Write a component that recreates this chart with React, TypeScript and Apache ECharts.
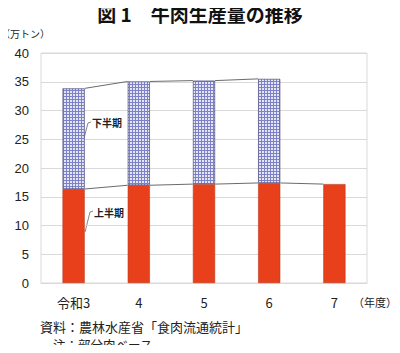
import React, { useEffect, useRef } from "react";
import * as echarts from "echarts";

const categories = ["令和3", "4", "5", "6", "7"];
const firstHalf = [16.35, 17.0, 17.2, 17.4, 17.2];
const secondHalf = [17.5, 18.05, 18.0, 18.1, null];
const yTicks = { min: 0, max: 40, interval: 5 };

const FONT = "'Noto Sans CJK JP', 'Liberation Sans', sans-serif";
const NUMFONT = "'Liberation Sans', Arial, sans-serif";

function makePattern(): HTMLCanvasElement {
  const c = document.createElement("canvas");
  c.width = 3;
  c.height = 3;
  const ctx = c.getContext("2d")!;
  ctx.fillStyle = "#e4e5f5";
  ctx.fillRect(0, 0, 3, 3);
  ctx.fillStyle = "#7d82c8";
  ctx.fillRect(0, 0, 3, 1);
  ctx.fillRect(0, 0, 1, 3);
  return c;
}

export default function App() {
  const ref = useRef<HTMLDivElement>(null);
  useEffect(() => {
    const chart = echarts.init(ref.current!, null, { renderer: "svg" });
    const totals = firstHalf.map((v, i) =>
      secondHalf[i] == null ? null : v + (secondHalf[i] as number)
    );
    const lowerLines: number[][] = [];
    for (let i = 0; i < firstHalf.length - 1; i++) {
      lowerLines.push([i, firstHalf[i], firstHalf[i + 1]]);
    }
    const upperLines: number[][] = [];
    for (let i = 0; i < totals.length - 1; i++) {
      if (totals[i] != null && totals[i + 1] != null) {
        upperLines.push([i, totals[i] as number, totals[i + 1] as number]);
      }
    }
    const barRatio = 0.34;
    const renderConnector = (params: any, api: any) => {
      const i = api.value(0);
      const p0 = api.coord([i, api.value(1)]);
      const p1 = api.coord([i + 1, api.value(2)]);
      const half = (api.size([1, 0])[0] * barRatio) / 2;
      return {
        type: "line",
        shape: { x1: p0[0] + half, y1: p0[1], x2: p1[0] - half, y2: p1[1] },
        style: { stroke: "#6b6b6b", lineWidth: 1 },
        silent: true,
      };
    };
    chart.setOption({
      animation: false,
      grid: {
        left: 41,
        right: 33,
        top: 53,
        bottom: 70,
        show: true,
        borderColor: "#d9d9d9",
        borderWidth: 1,
      },
      xAxis: {
        type: "category",
        data: categories,
        axisLine: { lineStyle: { color: "#d9d9d9" } },
        axisTick: { show: false },
        axisLabel: {
          color: "#222",
          fontSize: 13,
          fontFamily: FONT,
          margin: 13,
        },
      },
      yAxis: {
        type: "value",
        min: yTicks.min,
        max: yTicks.max,
        interval: yTicks.interval,
        axisLine: { show: false },
        axisTick: { show: false },
        splitLine: { lineStyle: { color: "#d9d9d9" } },
        axisLabel: {
          color: "#222",
          fontSize: 13,
          fontFamily: NUMFONT,
          margin: 12,
        },
      },
      series: [
        {
          name: "上半期",
          type: "bar",
          stack: "a",
          barWidth: barRatio * 100 + "%",
          data: firstHalf,
          itemStyle: {
            color: "#e8401a",
            borderColor: "#b9371c",
            borderWidth: 0.6,
          },
        },
        {
          name: "下半期",
          type: "bar",
          stack: "a",
          barWidth: barRatio * 100 + "%",
          data: secondHalf.map((v) => (v == null ? "-" : v)),
          itemStyle: {
            color: { image: makePattern(), repeat: "repeat" },
            borderColor: "#4a4a7a",
            borderWidth: 0.7,
          },
        },
        {
          type: "custom",
          renderItem: renderConnector,
          data: lowerLines,
          encode: { x: 0, y: 1 },
          z: 5,
          silent: true,
        },
        {
          type: "custom",
          renderItem: renderConnector,
          data: upperLines,
          encode: { x: 0, y: 1 },
          z: 5,
          silent: true,
        },
      ],
      graphic: [
        {
          type: "text",
          left: "center",
          top: 4,
          style: {
            text: "図 1　牛肉生産量の推移",
            font: "bold 19px " + FONT,
            fill: "#111",
          },
        },
        {
          type: "text",
          x: 0,
          y: 33,
          style: {
            text: "（万トン）",
            font: "10px " + FONT,
            fill: "#222",
            verticalAlign: "middle",
          },
        },
        {
          type: "text",
          x: 353,
          y: 302,
          style: {
            text: "（年度）",
            font: "11px " + FONT,
            fill: "#222",
            verticalAlign: "middle",
          },
        },
        {
          type: "text",
          x: 40,
          y: 326,
          style: {
            text: "資料：農林水産省「食肉流通統計」",
            font: "13px " + FONT,
            fill: "#222",
            verticalAlign: "middle",
          },
        },
        {
          type: "text",
          x: 53,
          y: 344,
          style: {
            text: "注：部分肉ベース。",
            font: "12.5px " + FONT,
            fill: "#222",
            verticalAlign: "middle",
          },
        },
        {
          type: "text",
          x: 92,
          y: 122,
          style: {
            text: "下半期",
            font: "bold 10px " + FONT,
            fill: "#222",
            verticalAlign: "middle",
          },
        },
        {
          type: "polyline",
          shape: { points: [[91, 122], [88, 123], [84, 138]] },
          style: { stroke: "#666", lineWidth: 0.8, fill: null },
        },
        {
          type: "text",
          x: 94,
          y: 212,
          style: {
            text: "上半期",
            font: "bold 10px " + FONT,
            fill: "#222",
            verticalAlign: "middle",
          },
        },
        {
          type: "polyline",
          shape: { points: [[93, 211], [90, 212], [85, 232]] },
          style: { stroke: "#666", lineWidth: 0.8, fill: null },
        },
      ],
    });
    return () => chart.dispose();
  }, []);
  return <div ref={ref} style={{ width: 400, height: 353, margin: -8 }} />;
}
